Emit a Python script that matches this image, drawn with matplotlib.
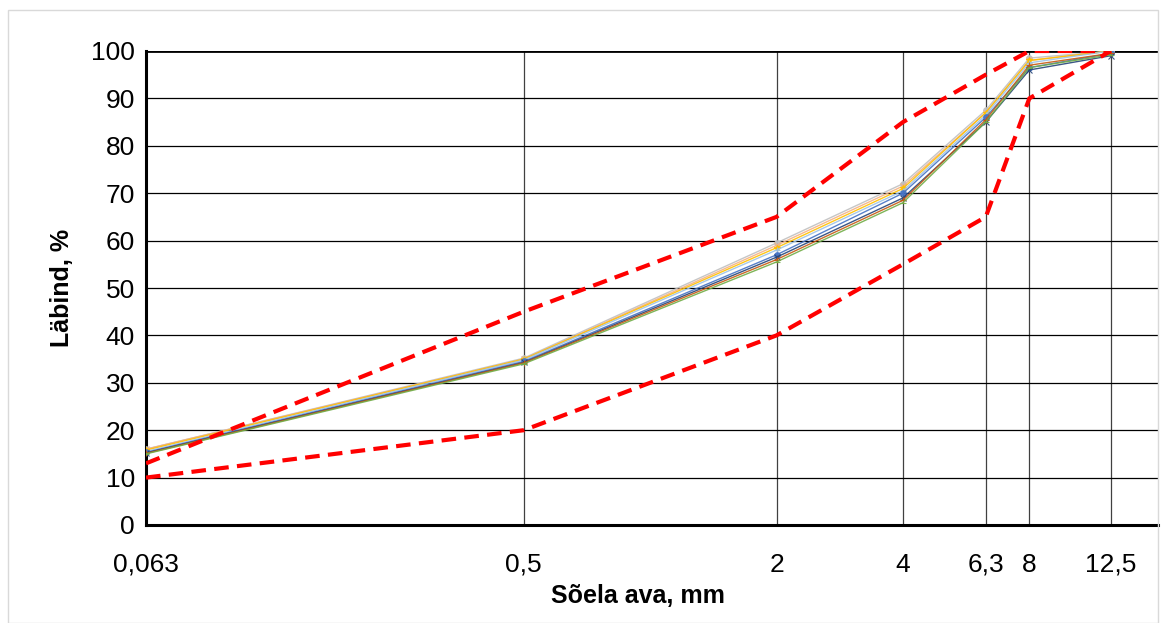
import matplotlib
matplotlib.use("Agg")
import matplotlib.pyplot as plt
from matplotlib.patches import Rectangle

plt.rcParams['font.family'] = ['Liberation Sans', 'DejaVu Sans']

sieves = [0.063, 0.5, 2, 4, 6.3, 8, 12.5]
tick_labels = ["0,063", "0,5", "2", "4", "6,3", "8", "12,5"]

upper_limit = [13, 45, 65, 85, 95, 100, 100]
lower_limit = [10, 20, 40, 55, 65, 90, 100]

s_blue = [15.3, 34.5, 57.0, 70.0, 86.0, 96.5, 99.5]
s_orange = [16.0, 35.0, 59.0, 71.5, 87.0, 98.0, 100]
s_gray = [16.0, 35.2, 59.5, 72.0, 87.5, 98.5, 100]
s_gold = [15.8, 35.0, 58.5, 71.0, 87.0, 98.0, 100]
s_lightblue = [15.5, 34.8, 58.0, 70.5, 86.5, 97.5, 100]
s_green = [15.0, 34.0, 55.5, 68.0, 85.0, 96.5, 99.2]
s_darkblue = [15.2, 34.3, 56.5, 69.0, 85.0, 96.0, 99.0]
s_darkorange = [15.1, 34.2, 56.0, 68.5, 85.5, 97.0, 99.5]

series = [
    (s_gray, "#C0C0C0", "o"),
    (s_orange, "#F4B183", "x"),
    (s_gold, "#FFC000", "*"),
    (s_lightblue, "#9DC3E6", "+"),
    (s_blue, "#4472C4", "o"),
    (s_darkblue, "#264478", "x"),
    (s_darkorange, "#C55A11", "+"),
    (s_green, "#70AD47", "_"),
]

fig = plt.figure(figsize=(11.61, 6.23), dpi=100)
fig.patches.append(Rectangle((8/1161, 0), 1150/1161, 1 - 10/623, transform=fig.transFigure,
                             fill=False, edgecolor="#d9d9d9", linewidth=1))
ax = fig.add_axes([146/1161, 1 - 525/623, (1158 - 146)/1161, (525 - 51)/623])

ax.set_xscale("log")
ax.set_xlim(0.063, 16.2)
ax.set_ylim(0, 100)

for v in sieves:
    ax.axvline(v, color="#404040", linewidth=0.9, zorder=1)
for yv in range(10, 101, 10):
    ax.axhline(yv, color="black", linewidth=2.0 if yv == 100 else 0.9, zorder=1)

for vals, col, mk in series:
    ax.plot(sieves, vals, color=col, linewidth=1.0, marker=mk, markersize=4,
            markeredgewidth=0.8, alpha=0.9, zorder=3)

ax.plot(sieves, upper_limit, color="#FF0000", linestyle=(0, (3.5, 2)), linewidth=3.0, zorder=4)
ax.plot(sieves, lower_limit, color="#FF0000", linestyle=(0, (3.5, 2)), linewidth=3.0, zorder=4)

ax.set_xticks(sieves)
ax.set_xticklabels(tick_labels)
ax.xaxis.set_minor_locator(matplotlib.ticker.NullLocator())
ax.set_yticks(range(0, 101, 10))
ax.tick_params(axis="both", labelsize=19, length=0)
ax.tick_params(axis="x", pad=20)
ax.tick_params(axis="y", pad=8)

for side in ["top", "right"]:
    ax.spines[side].set_visible(False)
ax.spines["left"].set_linewidth(2.2)
ax.spines["bottom"].set_linewidth(2.2)

ax.set_xlabel("Sõela ava, mm", fontsize=18, fontweight="bold", labelpad=4)
ax.xaxis.set_label_coords((638 - 146) / 1012, -0.125)
ax.set_ylabel("Läbind, %", fontsize=18, fontweight="bold", labelpad=12)

fig.savefig("out.png", dpi=100)
